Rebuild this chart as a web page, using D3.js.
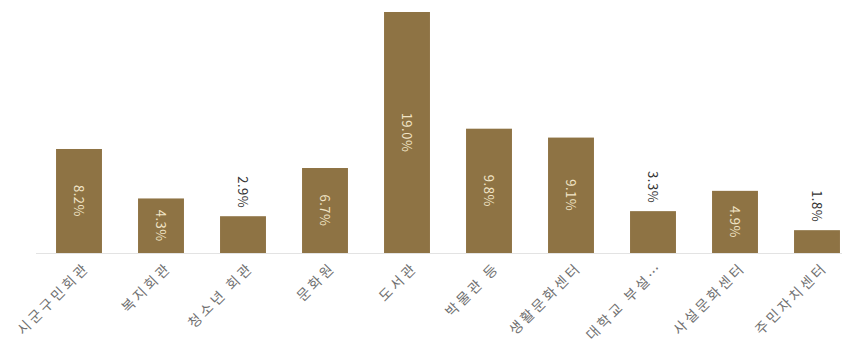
<!DOCTYPE html>
<html>
<head>
<meta charset="utf-8">
<script src="https://cdn.jsdelivr.net/npm/d3@7"></script>
<style>
  body { margin: 0; background: #fff; }
  svg { display: block; font-family: "Noto Sans CJK KR", "Noto Sans", sans-serif; }
</style>
</head>
<body>
<script>
// chart data
const categories = ["시군구민회관", "복지회관", "청소년 회관", "문화원", "도서관", "박물관 등", "생활문화센터", "대학교 부설…", "사설문화센터", "주민자치센터"];
const values = [8.2, 4.3, 2.9, 6.7, 19.0, 9.8, 9.1, 3.3, 4.9, 1.8];

const width = 842;
const height = 349;
const baseY = 253;
const barColor = "#8e7344";

const svg = d3.select("body").append("svg")
  .attr("width", width)
  .attr("height", height);

const x = d3.scaleBand()
  .domain(categories)
  .range([38, 858])
  .paddingInner(0.44)
  .paddingOuter(0.22);

const y = d3.scaleLinear()
  .domain([0, 19])
  .range([baseY, 12]);

// baseline
svg.append("line")
  .attr("x1", 36).attr("x2", width)
  .attr("y1", baseY + 0.5).attr("y2", baseY + 0.5)
  .attr("stroke", "#e3e3e3")
  .attr("stroke-width", 1);

const data = categories.map((c, i) => ({ cat: c, value: values[i] }));

svg.append("g").selectAll("rect")
  .data(data)
  .enter().append("rect")
    .attr("x", d => x(d.cat))
    .attr("width", x.bandwidth())
    .attr("y", d => y(d.value))
    .attr("height", d => y(0) - y(d.value))
    .attr("fill", barColor);

// value labels, rotated 90deg; inside for tall bars, above for short ones
svg.append("g").selectAll("text")
  .data(data)
  .enter().append("text")
    .attr("transform", d => {
      const cx = x(d.cat) + x.bandwidth() / 2;
      const inside = d.value > 4;
      const cy = inside ? (y(d.value) + y(0)) / 2 : y(d.value) - 8;
      return `translate(${cx},${cy}) rotate(90)`;
    })
    .attr("text-anchor", d => d.value > 4 ? "middle" : "end")
    .attr("dy", "0.35em")
    .attr("font-size", 13)
    .attr("letter-spacing", 0.5)
    .attr("fill", d => d.value > 4 ? "#f1e4c6" : "#333")
    .text(d => d3.format(".1f")(d.value) + "%");

// category labels rotated -45deg
svg.append("g").selectAll("text")
  .data(data)
  .enter().append("text")
    .attr("transform", d => `translate(${x(d.cat) + x.bandwidth() / 2 + 8},${baseY + 12}) rotate(-45)`)
    .attr("text-anchor", "end")
    .attr("dy", "0.35em")
    .attr("font-size", 14)
    .attr("letter-spacing", 3)
    .attr("fill", "#707070")
    .text(d => d.cat);
</script>
</body>
</html>
